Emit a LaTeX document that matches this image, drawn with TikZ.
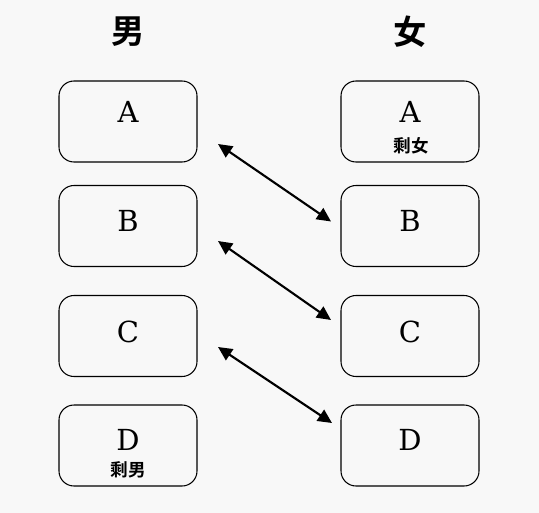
\documentclass[tikz,border=0pt]{standalone}
\usepackage{fontspec}
\setmainfont{DejaVu Serif}
\newfontfamily\cjk{Noto Sans CJK SC Bold}
\usepackage{tikz}
\usetikzlibrary{arrows.meta}
\definecolor{bggray}{RGB}{248,248,248}

\begin{document}
\begin{tikzpicture}[
    box/.style={draw=black,rounded corners=0.3cm,line width=0.6pt,minimum width=2.76cm,minimum height=1.62cm,inner sep=0pt},
    letter/.style={inner sep=0pt,font=\fontsize{16.5}{16.5}\selectfont},
    tag/.style={inner sep=0pt,font=\cjk\fontsize{10}{10}\selectfont},
    head/.style={inner sep=0pt,font=\cjk\fontsize{19}{19}\selectfont},
    pair/.style={{Triangle[length=8pt,width=7.5pt]}-{Triangle[length=8pt,width=7.5pt]},line width=1.2pt}
  ]

      \fill[bggray] (0,0) rectangle (10.78,-10.26);
      \useasboundingbox (0,0) rectangle (10.78,-10.26);

      \node[head] (men) at (2.56,-0.64){男};
      \node[head] (women) at (8.2,-0.64){女};

      \node[box] (mA) at (2.56,-2.43){};
      \node[box] (mB) at (2.56,-4.52){};
      \node[box] (mC) at (2.56,-6.72){};
      \node[box] (mD) at (2.56,-8.91){};

      \node[box] (wA) at (8.2,-2.43){};
      \node[box] (wB) at (8.2,-4.52){};
      \node[box] (wC) at (8.2,-6.72){};
      \node[box] (wD) at (8.2,-8.91){};

      \node[letter] (lmA) at (2.56,-2.24){A};
      \node[letter] (lmB) at (2.56,-4.42){B};
      \node[letter] (lmC) at (2.56,-6.64){C};
      \node[letter] (lmD) at (2.56,-8.8){D};

      \node[letter] (lwA) at (8.2,-2.24){A};
      \node[letter] (lwB) at (8.2,-4.42){B};
      \node[letter] (lwC) at (8.2,-6.64){C};
      \node[letter] (lwD) at (8.2,-8.8){D};

      \node[tag] (left1) at (8.22,-2.92){剩女};
      \node[tag] (left2) at (2.56,-9.4){剩男};

      \coordinate (s1) at (4.36,-2.88);
      \coordinate (t1) at (6.62,-4.43);
      \coordinate (s2) at (4.36,-4.82);
      \coordinate (t2) at (6.62,-6.4);
      \coordinate (s3) at (4.36,-6.94);
      \coordinate (t3) at (6.64,-8.46);

      \draw[pair] (s1) -- (t1);
      \draw[pair] (s2) -- (t2);
      \draw[pair] (s3) -- (t3);
    \end{tikzpicture}
\end{document}
